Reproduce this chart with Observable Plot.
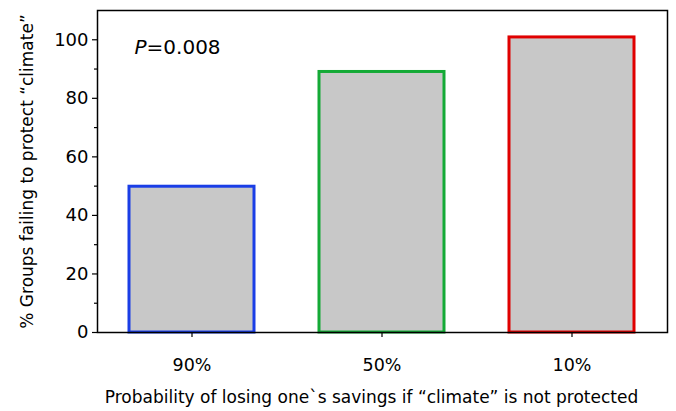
<!DOCTYPE html>
<html>
<head>
<meta charset="utf-8">
<script src="https://cdn.jsdelivr.net/npm/d3@7"></script>
<script src="https://cdn.jsdelivr.net/npm/@observablehq/plot@0.6"></script>
<style>
  html, body { margin: 0; padding: 0; background: #fff; }
  svg { display: block; }
</style>
</head>
<body>
<div id="chart"></div>
<script>
const categories = ["90%", "50%", "10%"];
const values = [49.8, 89, 100.8];
const colors = ["#1a3ee6", "#14aa36", "#e00000"];
const yTicks = [0, 20, 40, 60, 80, 100];
const yMinorTicks = [10, 30, 50, 70, 90];
const pLabel = "P=0.008";
const xLabel = "Probability of losing one`s savings if “climate” is not protected";
const yLabel = "% Groups failing to protect “climate”";

const data = categories.map((c, i) => ({cat: c, value: values[i], color: colors[i]}));

const font = "'DejaVu Sans', sans-serif";

const chart = Plot.plot({
  width: 676,
  height: 411,
  marginLeft: 97,
  marginRight: 9,
  marginTop: 10,
  marginBottom: 79,
  style: {fontFamily: font, fontSize: "16px", color: "#000", background: "#fff"},
  x: {domain: categories, paddingInner: 0.34, paddingOuter: 0.17},
  y: {domain: [0, 110]},
  marks: [
    Plot.barY(data, {x: "cat", y: "value", fill: "#c8c8c8", stroke: "color", strokeWidth: 3}),
    Plot.frame({stroke: "#000", strokeWidth: 1.5}),
    Plot.axisY(yTicks, {tickSize: 5, tickPadding: 4, fontSize: 18, label: null, strokeWidth: 1.2}),
    Plot.axisY(yMinorTicks, {tickSize: 3, text: null, label: null, strokeWidth: 1.2}),
    Plot.axisX({tickSize: 5, tickPadding: 21, fontSize: 17.5, label: null, strokeWidth: 1.2}),
    Plot.text([yLabel], {text: d => d, frameAnchor: "left", rotate: -90, dx: -70, fontSize: 17, textAnchor: "middle"}),
    Plot.text([xLabel], {text: d => d, frameAnchor: "bottom", dy: 70, dx: -11, fontSize: 17, textAnchor: "middle"}),
    Plot.text([pLabel], {text: d => d, frameAnchor: "top-left", dx: 37, dy: 29, fontSize: 20, textAnchor: "start", className: "plabel"})
  ]
});

// italicize the "P"
d3.select(chart).selectAll("g.plabel text").each(function() {
  const t = d3.select(this);
  const txt = t.text();
  t.text(null);
  t.append("tspan").attr("font-style", "italic").text(txt.slice(0, 1));
  t.append("tspan").text(txt.slice(1));
});

document.getElementById("chart").appendChild(chart);
</script>
</body>
</html>
